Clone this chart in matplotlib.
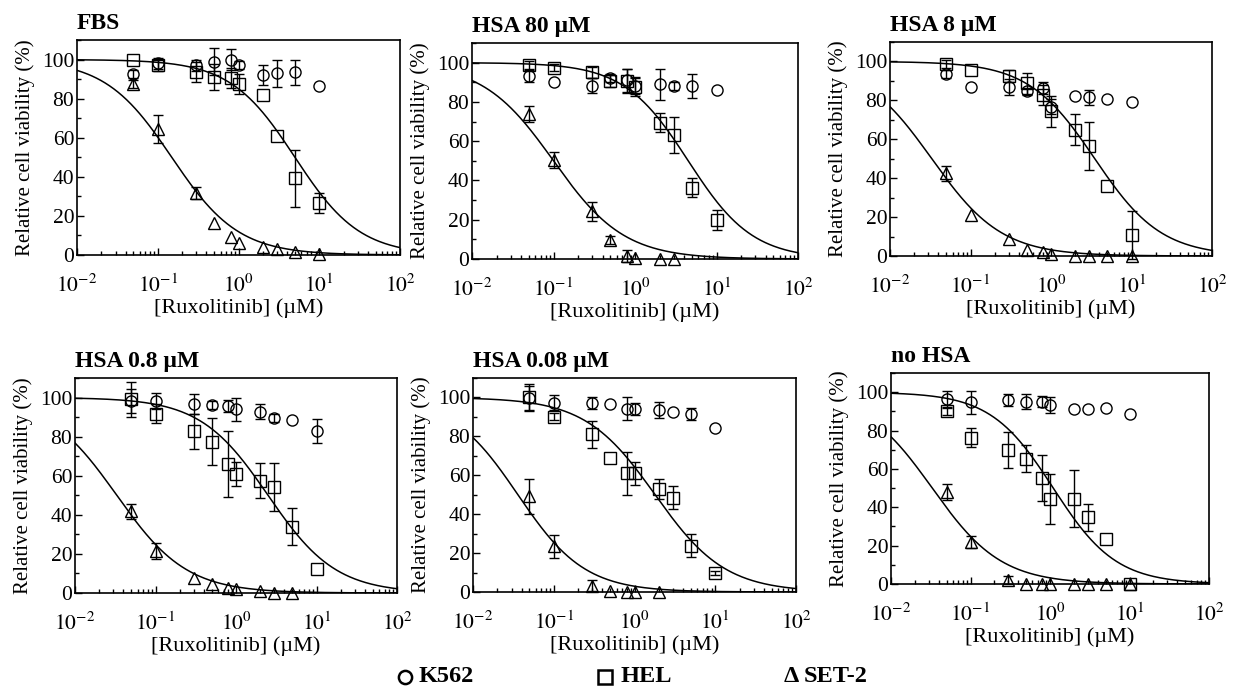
import numpy as np
import matplotlib
matplotlib.use("Agg")
import matplotlib.pyplot as plt
from matplotlib.lines import Line2D
from matplotlib.ticker import LogLocator, MultipleLocator, NullFormatter

plt.rcParams['font.family'] = ['Liberation Serif', 'DejaVu Serif']
plt.rcParams['mathtext.fontset'] = 'stix'

nan = np.nan

# drug concentrations (uM), same for every panel
conc = [0.05, 0.1, 0.3, 0.5, 0.8, 1, 2, 3, 5, 10]

titles = ["FBS", "HSA 80 \u00b5M", "HSA 8 \u00b5M", "HSA 0.8 \u00b5M", "HSA 0.08 \u00b5M", "no HSA"]

# K562 (circles)
k562 = [
    [92.8, 98, 97, 99, 100, 97.4, 92, 93, 93.5, 86.7],
    [93.2, 90.3, 88.3, 92, 91, 88, 89, 88, 88, 86],
    [93.7, 87.1, 87, 84.6, 86.3, 76.8, 82, 81.5, 80.6, 79.4],
    [98.3, 98.3, 96.6, 96, 95.7, 94, 92.8, 89.7, 88.5, 82.8],
    [99.7, 97.4, 97, 96.6, 94.3, 94, 93.5, 92.3, 91.4, 84.2],
    [96.5, 94.8, 96, 95.1, 95.1, 93.4, 91.3, 91.3, 91.7, 88.4],
]
k562_err = [
    [2, 3, 3, 7, 5.5, 2, 5, 7, 6.5, nan],
    [3, nan, 4, 2, 6, 4, 8, 2, 6, nan],
    [2, nan, 4, 2, 3, 4, nan, 4, nan, nan],
    [6, 4, 5, 2, 3, 6, 4, 2, nan, 6],
    [6, 4, 3, nan, 6, 3, 4, nan, 3, nan],
    [4, 6, 3, 4, 3, 4, nan, nan, nan, nan],
]

# HEL (squares)
hel = [
    [100, 97, 93.5, 91, 90.6, 87.5, 82, 60.7, 39.3, 26.5],
    [98.8, 97.5, 95, 90.7, 90.7, 87.8, 69.5, 63.2, 36.4, 19.7],
    [98.6, 95.4, 92.6, 88.8, 82.8, 74.3, 64.8, 56.6, 36.2, 10.8],
    [99.1, 91.8, 82.8, 77.4, 66, 61, 57.5, 54.2, 34, 12.5],
    [100, 90.2, 81, 69, 61, 61, 53, 48.5, 23.9, 9.8],
    [90, 76.3, 70, 65.3, 55.5, 44.2, 44.5, 34.7, 23.4, 0],
]
hel_err = [
    [nan, 3, 5, 6.5, 5, 5, nan, nan, 14.5, 5],
    [2, 2, 3, 3, 6, 5, 5, 9, 5, 5],
    [2, nan, 3, 5.5, 5, 8, 8, 12.5, nan, 12.5],
    [9, 5, 9, 12, 17, 6, 9, 12.5, 9.5, nan],
    [7, 2, 7, nan, 11, 6, 5, 6, 6, 1],
    [2, 5, 9.5, 7, 12, 13, 15, 7, nan, nan],
]

# SET-2 (triangles)
set2 = [
    [87.5, 64.4, 31.6, 16.2, 9, 6, 4, 3, 1.5, 0.5],
    [73.7, 50.5, 24.2, 9.8, 1.5, 0.5, 0, 0, nan, nan],
    [42.5, 21, 8.7, 3, 1.9, 1, 0, 0, 0, 0],
    [41.7, 21.4, 7.7, 4.8, 2.6, 2.2, 0.9, 0, 0, nan],
    [49.3, 23.5, 3.3, 0.3, 0, 0, 0, nan, nan, nan],
    [48, 22, 2, 0, 0, 0, 0, 0, 0, 0],
]
set2_err = [
    [2, 7, 3, nan, nan, nan, nan, nan, nan, nan],
    [4, 4, 5, 2, 3, nan, nan, nan, nan, nan],
    [4, nan, nan, nan, nan, nan, nan, nan, nan, nan],
    [4, 4, nan, nan, nan, nan, nan, nan, nan, nan],
    [9, 6, 3, nan, nan, nan, nan, nan, nan, nan],
    [4, 3, 2, nan, nan, nan, nan, nan, nan, nan],
]

# fitted dose-response curves: IC50 (uM) and Hill slope
hel_ic50 = [5.0, 4.5, 3.5, 2.5, 1.8, 1.1]
hel_hill = [1.08, 1.1, 1.05, 1.03, 1.0, 1.1]
set2_ic50 = [0.149, 0.1, 0.033, 0.033, 0.036, 0.033]
set2_hill = [1.05, 1.0, 1.0, 1.0, 1.05, 1.0]

W, H = 1240, 689
# axes boxes in pixels: left, top, right, bottom
boxes = [
    (77, 40, 400, 255),
    (472, 43, 798, 259),
    (890, 42, 1212, 256),
    (75, 378, 397, 593),
    (473, 378, 796, 592),
    (891, 373, 1209, 584),
]


def hill(x, ic50, h):
    return 100.0 / (1.0 + (x / ic50) ** h)


def draw_series(ax, y, err, marker, size):
    ax.errorbar(conc, y, yerr=err, fmt=marker, color='black', mfc='none', mec='black',
                ms=size, mew=1.0, elinewidth=1.0, capsize=3.5, capthick=1.0, clip_on=False, zorder=3)


def draw_panel(ax, i):
    xs = np.logspace(-2, 2, 300)
    ax.plot(xs, hill(xs, hel_ic50[i], hel_hill[i]), color='black', lw=1.1)
    ax.plot(xs, hill(xs, set2_ic50[i], set2_hill[i]), color='black', lw=1.1)

    draw_series(ax, k562[i], k562_err[i], 'o', 8)
    draw_series(ax, hel[i], hel_err[i], 's', 8)
    draw_series(ax, set2[i], set2_err[i], '^', 8.5)

    ax.set_xscale('log')
    ax.set_xlim(1e-2, 1e2)
    ax.set_ylim(0, 110)
    ax.set_xticks([1e-2, 1e-1, 1e0, 1e1, 1e2])
    ax.set_xticklabels(['$10^{-2}$', '$10^{-1}$', '$10^{0}$', '$10^{1}$', '$10^{2}$'])
    ax.xaxis.set_minor_locator(LogLocator(base=10, subs=np.arange(2, 10)))
    ax.xaxis.set_minor_formatter(NullFormatter())
    ax.set_yticks([0, 20, 40, 60, 80, 100])
    ax.yaxis.set_minor_locator(MultipleLocator(10))

    ax.tick_params(which='both', direction='in', top=False, right=False, width=1.0)
    ax.tick_params(which='major', length=5, labelsize=15.5)
    ax.tick_params(which='minor', length=3)
    ax.tick_params(axis='x', which='major', pad=14)
    ax.tick_params(axis='y', which='major', pad=2)
    for s in ax.spines.values():
        s.set_linewidth(1.2)

    ax.set_xlabel('[Ruxolitinib] (\u00b5M)', fontsize=16, labelpad=1)
    ax.set_ylabel('Relative cell viability (%)', fontsize=15, labelpad=5)
    ax.set_title(titles[i], loc='left', fontsize=17, fontweight='bold', pad=8)


def main():
    fig = plt.figure(figsize=(W / 100, H / 100), dpi=100)
    for i, (l, t, r, b) in enumerate(boxes):
        ax = fig.add_axes([l / W, 1 - b / H, (r - l) / W, (b - t) / H])
        draw_panel(ax, i)

    # legend along the bottom: open circle, open square, then a Greek Delta
    y = 1 - 677 / H
    fig.add_artist(Line2D([405 / W], [y], transform=fig.transFigure, marker='o', ms=9.5,
                          mfc='none', mec='black', mew=1.8, ls='none'))
    fig.add_artist(Line2D([605 / W], [y], transform=fig.transFigure, marker='s', ms=10,
                          mfc='none', mec='black', mew=1.8, ls='none'))
    fig.text(784 / W, y, "\u0394", ha='left', va='center', fontsize=17.5, fontweight='bold')

    legend_labels = ["K562", "HEL", "SET-2"]
    label_x = [419, 621, 804]
    for lab, lx in zip(legend_labels, label_x):
        fig.text(lx / W, y, lab, ha='left', va='center', fontsize=17.5, fontweight='bold')

    fig.savefig('out.png', dpi=100)


main()
